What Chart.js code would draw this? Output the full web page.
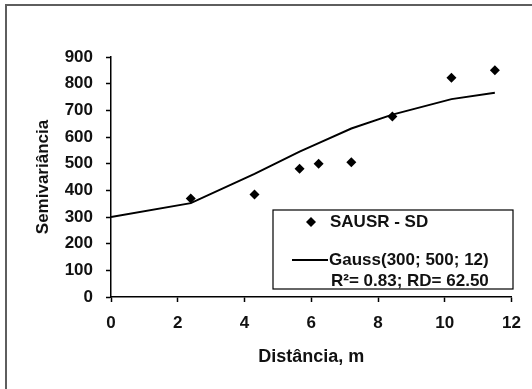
<!DOCTYPE html>
<html>
<head>
<meta charset="utf-8">
<script src="https://cdn.jsdelivr.net/npm/chart.js@4"></script>
<style>
  html, body { margin: 0; padding: 0; background: #fff; }
  #caixa { width: 532px; height: 389px; }
</style>
</head>
<body>
<div id="caixa"><canvas id="graficoSemivariograma"></canvas></div>
<script>
// dados
const distancias = [2.39, 4.30, 5.65, 6.22, 7.20, 8.43, 10.20, 11.50];
const semivariancias = [369, 384, 481, 500, 505, 677, 822, 850];
const modeloDist = [0, 2.39, 4.30, 5.65, 6.22, 7.20, 8.43, 10.20, 11.50];
const modeloSemiv = [300, 352, 462, 545, 577, 632, 684, 742, 766];
const ticksX = [0, 2, 4, 6, 8, 10, 12];
const ticksY = [0, 100, 200, 300, 400, 500, 600, 700, 800, 900];
const legendaPontos = 'SAUSR - SD';
const legendaModelo = ['Gauss(300; 500; 12)', 'R²= 0.83; RD= 62.50'];

const fonte = '"Liberation Sans", Arial, sans-serif';

// moldura cinza (só topo e esquerda aparecem)
const moldura = {
  id: 'moldura',
  afterDraw(chart) {
    const c = chart.ctx;
    c.save();
    c.strokeStyle = '#5e5e5e';
    c.lineWidth = 2;
    c.beginPath();
    c.moveTo(6, chart.height);
    c.lineTo(6, 5);
    c.lineTo(chart.width, 5);
    c.stroke();
    c.restore();
  }
};

// legenda dentro da área do gráfico
const legendaCaixa = {
  id: 'legendaCaixa',
  afterDatasetsDraw(chart) {
    const c = chart.ctx;
    const a = chart.chartArea;
    const x0 = a.left + 162, y0 = a.top + 153;
    const w = 240, h = 79;
    c.save();
    c.fillStyle = '#fff';
    c.fillRect(x0, y0, w, h);
    c.strokeStyle = '#000';
    c.lineWidth = 1.2;
    c.strokeRect(x0, y0, w, h);

    // marcador losango
    const dx = x0 + 38, dy = y0 + 12;
    c.fillStyle = '#000';
    c.beginPath();
    c.moveTo(dx, dy - 5);
    c.lineTo(dx + 5, dy);
    c.lineTo(dx, dy + 5);
    c.lineTo(dx - 5, dy);
    c.closePath();
    c.fill();

    c.font = 'bold 17px ' + fonte;
    c.textBaseline = 'middle';
    c.textAlign = 'left';
    c.fillStyle = '#111';
    c.fillText(legendaPontos, x0 + 57, dy);

    // amostra da linha
    const ly = y0 + 50;
    c.strokeStyle = '#000';
    c.lineWidth = 2;
    c.beginPath();
    c.moveTo(x0 + 19, ly);
    c.lineTo(x0 + 55, ly);
    c.stroke();
    c.fillText(legendaModelo[0], x0 + 56, ly);
    c.fillText(legendaModelo[1], x0 + 58, ly + 21);
    c.restore();
  }
};

const data = {
  datasets: [
    {
      type: 'line',
      label: legendaModelo.join(' '),
      data: modeloDist.map((d, i) => ({ x: d, y: modeloSemiv[i] })),
      borderColor: '#000',
      borderWidth: 2,
      pointRadius: 0,
      tension: 0,
      fill: false,
      order: 2
    },
    {
      type: 'scatter',
      label: legendaPontos,
      data: distancias.map((d, i) => ({ x: d, y: semivariancias[i] })),
      pointStyle: 'rectRot',
      pointRadius: 5,
      backgroundColor: '#000',
      borderColor: '#000',
      borderWidth: 0,
      order: 1
    }
  ]
};

const config = {
  type: 'scatter',
  data: data,
  options: {
    responsive: false,
    animation: false,
    layout: { padding: { top: 57, right: 14, left: 0, bottom: 0 } },
    plugins: {
      legend: { display: false },
      tooltip: { enabled: false }
    },
    scales: {
      x: {
        type: 'linear',
        min: 0,
        max: 12,
        afterBuildTicks: s => { s.ticks = ticksX.map(v => ({ value: v })); },
        afterFit: s => { s.height = 92; },
        border: { display: true, color: '#000', width: 1.5 },
        grid: { drawOnChartArea: false, drawTicks: true, tickLength: 5, color: '#000', tickWidth: 1.5 },
        ticks: {
          color: '#111',
          padding: 11,
          autoSkip: false,
          font: { family: fonte, size: 17, weight: 'bold' },
          maxRotation: 0
        },
        title: {
          display: true,
          text: 'Distância, m',
          color: '#111',
          font: { family: fonte, size: 18, weight: 'bold' },
          padding: { top: 0, bottom: 21 }
        }
      },
      y: {
        type: 'linear',
        min: 0,
        max: 900,
        afterBuildTicks: s => { s.ticks = ticksY.map(v => ({ value: v })); },
        afterFit: s => { s.width = 111; },
        border: { display: true, color: '#000', width: 1.5 },
        grid: { drawOnChartArea: false, drawTicks: true, tickLength: 5, color: '#000', tickWidth: 1.5 },
        ticks: {
          color: '#111',
          padding: 13,
          autoSkip: false,
          font: { family: fonte, size: 17, weight: 'bold' }
        },
        title: {
          display: true,
          text: 'Semivariância',
          color: '#111',
          font: { family: fonte, size: 17, weight: 'bold' },
          padding: { top: 33, bottom: 0 }
        }
      }
    }
  },
  plugins: [moldura, legendaCaixa]
};

const ctx = document.getElementById('graficoSemivariograma');
ctx.width = 532;
ctx.height = 389;
new Chart(ctx, config);
</script>
</body>
</html>
